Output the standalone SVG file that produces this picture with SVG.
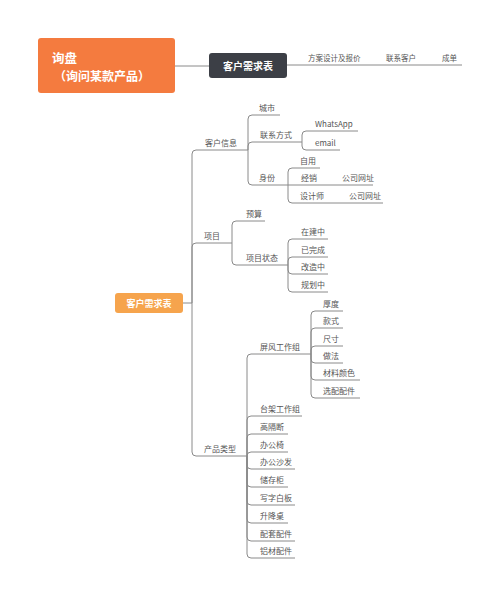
<svg xmlns="http://www.w3.org/2000/svg" width="500" height="597" viewBox="0 0 500 597">
<style>
text{font-family:"Noto Sans CJK SC","Noto Sans",sans-serif;}
.l{font-size:8px;fill:#555;}
.s{font-size:7.5px;fill:#555;}
.u{stroke:#8a8a8a;stroke-width:1;fill:none;}
.c{stroke:#8a8a8a;stroke-width:1;fill:none;}
</style>
<rect width="500" height="597" fill="#fff"/>
<g id="connectors">
<path class="c" d="M175,66 H209"/>
<path class="c" d="M287,65 H462" stroke="#aaa"/>
<path class="c" d="M183,303 H192"/>
<path class="c" d="M192,303 V154 Q192,150 196,150 M192,303 V247 Q192,243 196,243 M192,303 V452 Q192,456 196,456"/>
<path class="c" d="M248,150 V119 Q248,115 252,115 M248,150 V146 Q248,142 252,142 M248,150 V181 Q248,185 252,185"/>
<path class="c" d="M302,142 V135 Q302,131 306,131 M302,142 V146 Q302,150 306,150"/>
<path class="c" d="M288,185 V172 Q288,168 292,168 M288,185 V199 Q288,203 292,203"/>
<path class="c" d="M232,243 V225 Q232,221 236,221 M232,243 V261 Q232,265 236,265"/>
<path class="c" d="M288,265 V243 Q288,239 292,239 M288,265 V261 Q288,257 292,257 M288,265 V270 Q288,274 292,274 M288,265 V288 Q288,292 292,292"/>
<path class="c" d="M247,456 V358 Q247,354 251,354 M247,456 V420 Q247,416 251,416 M247,456 V438 Q247,434 251,434 M247,456 Q247,452 251,452 M247,456 V465 Q247,469 251,469 M247,456 V483 Q247,487 251,487 M247,456 V501 Q247,505 251,505 M247,456 V519 Q247,523 251,523 M247,456 V537 Q247,541 251,541 M247,456 V554 Q247,558 251,558"/>
<path class="c" d="M311,354 V315 Q311,311 315,311 M311,354 V332 Q311,328 315,328 M311,354 V350 Q311,346 315,346 M311,354 V359 Q311,363 315,363 M311,354 V376 Q311,380 315,380 M311,354 V394 Q311,398 315,398"/>
</g>
<g id="inquiry">
<rect x="38" y="38" width="137" height="55" rx="3" fill="#f47b3f"/>
<text x="52" y="63" font-size="12.5" font-weight="bold" fill="#fff">询盘</text>
<text x="54" y="81" font-size="12" font-weight="bold" fill="#fff">（询问某款产品）</text>
</g>
<g id="demand-top">
<rect x="209" y="53" width="78" height="25" rx="3" fill="#3c3f46"/>
<text x="248" y="70" font-size="10" font-weight="bold" fill="#fff" text-anchor="middle">客户需求表</text>
</g>
<g id="step-design"><text class="s" x="308" y="61">方案设计及报价</text></g>
<g id="step-contact"><text class="s" x="386" y="61">联系客户</text></g>
<g id="step-deal"><text class="s" x="442" y="61">成单</text></g>
<g id="root">
<rect x="115" y="293" width="68" height="20" rx="3" fill="#f6a44d"/>
<text x="149" y="306.5" font-size="9" font-weight="bold" fill="#fff" text-anchor="middle">客户需求表</text>
</g>
<g id="n-customer"><path class="u" d="M196,150 H248"/><text class="l" x="205" y="146">客户信息</text></g>
<g id="n-project"><path class="u" d="M196,243 H232"/><text class="l" x="204" y="239">项目</text></g>
<g id="n-product"><path class="u" d="M196,456 H247"/><text class="l" x="204" y="452">产品类型</text></g>
<g id="n-city"><path class="u" d="M252,115 H280"/><text class="l" x="259" y="111">城市</text></g>
<g id="n-contact"><path class="u" d="M252,142 H302"/><text class="l" x="260" y="138">联系方式</text></g>
<g id="n-identity"><path class="u" d="M252,185 H288"/><text class="l" x="259" y="181">身份</text></g>
<g id="n-whatsapp"><path class="u" d="M306,131 H358"/><text class="l" x="315" y="127">WhatsApp</text></g>
<g id="n-email"><path class="u" d="M306,150 H340"/><text class="l" x="315" y="146">email</text></g>
<g id="n-self"><path class="u" d="M292,168 H320"/><text class="l" x="300" y="164">自用</text></g>
<g id="n-dealer"><path class="u" d="M288,185 H326"/><text class="l" x="301" y="181">经销</text></g>
<g id="n-dealer-web"><path class="u" d="M326,185 H373"/><text class="l" x="342" y="181">公司网址</text></g>
<g id="n-designer"><path class="u" d="M292,203 H330"/><text class="l" x="300" y="199">设计师</text></g>
<g id="n-designer-web"><path class="u" d="M330,203 H383"/><text class="l" x="349" y="199">公司网址</text></g>
<g id="n-budget"><path class="u" d="M236,221 H265"/><text class="l" x="246" y="217">预算</text></g>
<g id="n-status"><path class="u" d="M236,265 H288"/><text class="l" x="246" y="261">项目状态</text></g>
<g id="n-building"><path class="u" d="M292,239 H328"/><text class="l" x="301" y="235">在建中</text></g>
<g id="n-done"><path class="u" d="M292,257 H328"/><text class="l" x="301" y="253">已完成</text></g>
<g id="n-renovate"><path class="u" d="M292,274 H328"/><text class="l" x="301" y="270">改造中</text></g>
<g id="n-planning"><path class="u" d="M292,292 H328"/><text class="l" x="301" y="288">规划中</text></g>
<g id="n-screen"><path class="u" d="M251,354 H311"/><text class="l" x="260" y="350">屏风工作组</text></g>
<g id="n-bench"><path class="u" d="M251,416 H302"/><text class="l" x="260" y="412">台架工作组</text></g>
<g id="n-partition"><path class="u" d="M251,434 H288"/><text class="l" x="260" y="430">高隔断</text></g>
<g id="n-chair"><path class="u" d="M251,452 H288"/><text class="l" x="260" y="448">办公椅</text></g>
<g id="n-sofa"><path class="u" d="M251,469 H295"/><text class="l" x="260" y="465">办公沙发</text></g>
<g id="n-cabinet"><path class="u" d="M251,487 H288"/><text class="l" x="260" y="483">储存柜</text></g>
<g id="n-board"><path class="u" d="M251,505 H295"/><text class="l" x="260" y="501">写字白板</text></g>
<g id="n-lift"><path class="u" d="M251,523 H288"/><text class="l" x="260" y="519">升降桌</text></g>
<g id="n-acc"><path class="u" d="M251,541 H295"/><text class="l" x="260" y="537">配套配件</text></g>
<g id="n-alu"><path class="u" d="M251,558 H295"/><text class="l" x="260" y="554">铝材配件</text></g>
<g id="n-thick"><path class="u" d="M315,311 H343"/><text class="l" x="323" y="307">厚度</text></g>
<g id="n-style"><path class="u" d="M315,328 H343"/><text class="l" x="323" y="324">款式</text></g>
<g id="n-size"><path class="u" d="M315,346 H343"/><text class="l" x="323" y="342">尺寸</text></g>
<g id="n-method"><path class="u" d="M315,363 H343"/><text class="l" x="323" y="359">做法</text></g>
<g id="n-color"><path class="u" d="M315,380 H360"/><text class="l" x="323" y="376">材料颜色</text></g>
<g id="n-option"><path class="u" d="M315,398 H360"/><text class="l" x="323" y="394">选配配件</text></g>
</svg>
